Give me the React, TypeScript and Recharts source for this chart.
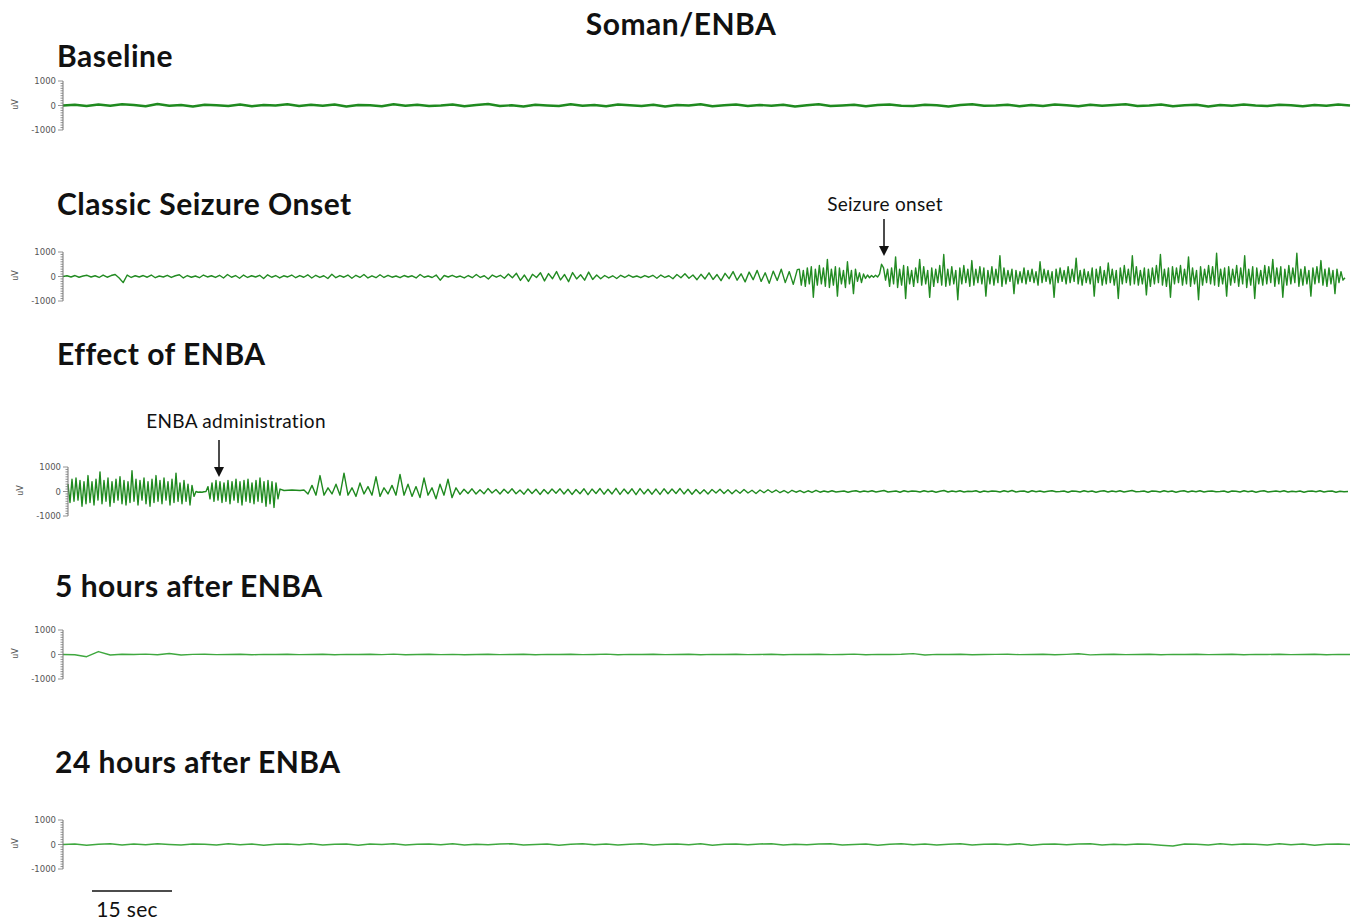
import React from 'react';
import { LineChart, Line, XAxis, YAxis } from 'recharts';

// EEG amplitude in uV. Slow segments are sampled every 0.75 s, fast ones every 0.375 s.
const SLOW = 0.75;
const FAST = 0.375;

const baseline = [
  0, 30, -20, 40, -10, 50, 20, -30, 60, -10,
  20, -40, 30, 10, -20, 40, -30, 20, 0, 50,
  -20, 30, -10, 40, -40, 20, 10, -30, 50, -10,
  30, -20, 0, 40, -30, 20, 60, -20, 10, -40,
  30, 0, -20, 50, -10, 20, -30, 40, 10, -20,
  30, -40, 20, 0, 50, -30, 10, 40, -20, 20,
  -10, 30, -40, 10, 50, -20, 0, 30, -30, 20,
  40, -10, -20, 30, 10, -40, 20, 50, -10, 0,
  30, -30, 20, -20, 40, 10, -30, 30, -10, 20,
  50, -20, 0, 40, -30, 10, 30, -40, 20, -10,
  40, 0, -20, 30, 10, -30, 20, -10, 40, 0,
];

const seizurePre = [
  0, 30, -20, 40, -30, 20, 50, -20, 30, -40,
  60, -30, 40, 80, -60, -250, 60, -40, 30, -20,
  40, -30, 60, -50, 20, -20, 50, -40, 30, 70,
  -60, 40, -30, 20, -50, 60, -20, 30, -40, 50,
  -60, 80, -30, 40, -70, 60, -40, 30, -20, 50,
  -80, 70, -30, 40, -60, 30, -20, 60, -50, 40,
  -30, 70, -60, 50, -40, 30, -80, 90, -50, 40,
  -30, 60, -70, 50, -40, 80, -60, 30, -50, 70,
  -40, 50, -30, 20, -50, 40, -20, 30, -60, 80,
  -30, 20, -40, 60, -150, 40, -20, 50, -30, 20,
  -60, 40, -50, 80, -40, 30, -100, 60, -30, 50,
  -70, 100, -50, 130, -160, 60, -200, 90, -40, 150,
  -180, 120, -90, 200, -140, 80, -210, 160, -100, 70,
  -150, 180, -120, 60, -90, 40, -60, 30, -80, 50,
  -40, 60, -30, 20, -50, 40, -30, 50, -70, 60,
  -40, 30, -90, 80, -50, 110, -70, 60, -130, 90,
  -100, 150, -120, 80, -170, 130, -90, 200, -150, 110,
  -220, 180, -130, 250, -200, 150, -280, 220, -160, 300,
  -250, 200, -320, 280,
];

const seizureIctal = [
  300, -350, 250, -400, 350, -300, 400, -850, 300, -350,
  450, -300, 350, -400, 700, -450, 300, -350, 400, -800,
  350, -300, 250, -450, 600, -300, 250, -700, 300, -200,
  150, -250, 100, -80, 60, -50, 40, -30, 50, -20,
  100, 500, 350, -150, 300,
  -400, 350, -300, 800, -450, 300, -350, 450, -900, 400,
  -300, 250, -400, 350, -250, 700, -350, 400, -300, 250,
  -850, 350, -400, 300, -250, 450, -350, 900, -400, 300,
  -350, 400, -300, 250, -950, 350, -300, 450, -250, 300,
  -400, 650, -350, 300, -250, 400, -300, 350, -800, 250,
  -300, 400, -350, 300, -250, 850, -400, 350, -300, 250,
  -200, 300, -700, 250, -300, 200, -250, 350, -300, 250,
  -200, 300, -250, 200, -350, 600, -250, 300, -200, 250,
  -300, 200, -850, 300, -250, 350, -200, 250, -300, 400,
  -250, 300, -200, 750, -300, 250, -350, 300, -250, 200,
  -300, 350, -800, 300, -250, 400, -350, 250, -300, 550,
  -250, 300, -350, 250, -900, 350, -300, 450, -250, 300,
  -350, 850, -300, 400, -350, 250, -300, 350, -750, 300,
  -400, 350, -300, 450, -250, 900, -350, 300, -400, 350,
  -850, 400, -300, 350, -250, 450, -350, 300, -300, 800,
  -400, 350, -300, 250, -950, 400, -350, 300, -250, 450,
  -300, 400, -350, 950, -400, 300, -300, 350, -800, 400,
  -350, 300, -250, 450, -400, 350, -300, 850, -450, 300,
  -350, 400, -900, 350, -300, 250, -350, 450, -300, 400,
  -250, 700, -400, 350, -300, 400, -850, 300, -350, 450,
  -300, 350, -250, 950, -400, 300, -350, 400, -300, 250,
  -800, 350, -300, 400, -250, 650, -350, 300, -400, 350,
  -300, 250, -700, 300, -250, 200, -150, -50,
];

const effectBurst = [
  300, -450, 500, -400, 550, -350, 450, -600, 400, -500,
  650, -450, 400, -550, 500, -350, 800, -500, 450, -400,
  550, -600, 400, -450, 500, -350, 600, -500, 450, -550,
  400, -450, 850, -400, 500, -550, 450, -350, 550, -500,
  400, -600, 500, -450, 650, -400, 450, -500, 550, -350,
  400, -550, 500, -450, 750, -400, 350, -500, 450, -400,
  300, -550, 250, -200,
  0, -30, -20, -30, -10, 0,
  200, -300, 350, -400, 450, -350, 400, -450, 350, -400,
  450, -500, 400, -350, 500, -450, 400, -550, 450, -400,
  500, -450, 350, -500, 450, -400, 550, -450, 400, -600,
  450, -500, 400, -650, 350, -300, 100,
];

const effectRecovery = [
  40, 50, 60, 50, 40, 60,
  -100, 250, -150, 650, -150, 150, -100, 300, -150, 750,
  -150, 150, -200, 350, -100, 200, -150, 600, -200, 150,
  -100, 250, -150, 700, -150, 300, -200, 200, -250, 550,
  -150, 150, -300, 300, -150, 500, -250, 150,
  -120, 90, -80, 110, -100, 70, -90, 120, -60, 80,
  -100, 90, -70, 110, -90, 60, -110, 100, -80, 90,
  -120, 80, -90, 100, -70, 110, -100, 90, -120, 80,
  -90, 110, -130, 100, -80, 120, -110, 90, -100, 130,
  -120, 100, -90, 110, -130, 120, -100, 90, -110, 100,
  -120, 110, -90, 100, -80, 120, -100, 90, -110, 80,
  -90, 70, -100, 80, -60, 90, -80, 70, -90, 60,
  -70, 80, -60, 50, -80, 60, -50, 70, -40, 60,
  -50, 40, -60, 50, -30, 40, -50, 30, -40, 50,
  -30, 20, -20,
];

const effectQuiet = [
  30, -20, 0, 20, -30, 10, 30, -20, 20, -10,
  30, -20, 10, 40, -20, 0, 20, -30, 30, -10,
  20, 10, -20, 30, -10, 20, -30, 10, 40, -20,
  20, -10, 30, -20, 10, 0, 30, -30, 20, -10,
  20, 10, -20, 30, -10, 40, -20, 10, 20, -30,
  30, -10, 20, -20, 10, 30, -10, 0, 20, -30,
  20, 10, -20, 30, -10, 20, -30, 10, 30, -20,
  20, -10, 30, -20, 10, 40, -10, 0, 20, -30,
  20, 10, -20, 30, -10, 20, -30, 10, 30, -20,
  20, -10, 30, -20, 10, 20, -10, 0, 20, -30,
  20, 10, -20, 30, -10, 20, -30, 10, 30, -20,
  0, 20, -10, 30, -20, 10, -10, 20, -30, 10,
  20, -10, 30, -20, 10, 20, -30, 10, -10, 0,
];

const hours5 = [
  0, -10, -90, 120, -20, 10, 0, 15, -10, 40,
  -20, 5, 10, -5, 0, 10, -10, 5, 0, 10,
  -5, 0, 10, -10, 5, 0, 10, -5, 15, -10,
  0, 10, -5, 5, -10, 0, 10, -5, 0, 10,
  -10, 5, 0, 10, -5, 0, 15, -10, 5, 0,
  10, -5, 0, 10, -10, 5, 0, 10, -5, 0,
  10, -10, 5, 0, 10, -5, 0, 15, -10, 5,
  0, 10, 35, -20, 5, 0, 10, -10, 0, 5,
  10, -5, 0, 10, -10, 5, 30, -15, 0, 10,
  -5, 0, 10, -10, 5, 0, 10, -5, 0, 10,
  -10, 5, 0, 10, -5, 0, 10, -10, 5, 0,
];

const hours24 = [
  0, 20, -30, 10, 30, -20, 20, -10, 30, 0,
  -20, 20, 10, -20, 30, -10, 20, -30, 10, 20,
  -10, 30, -20, 10, 20, -30, 20, 0, 30, -20,
  10, 20, -10, 30, -20, 10, -10, 20, 30, -20,
  0, 20, -30, 10, 30, -10, 20, -20, 10, 30,
  -20, 10, 20, -10, 30, -30, 10, 20, -10, 20,
  30, -20, 10, -10, 20, 30, -20, 0, 20, -30,
  10, 30, -10, 20, -20, 10, 30, -20, 10, 20,
  -10, 30, -30, 10, 20, -10, 20, 30, -20, 10,
  -10, 20, 10, -30, -60, 20, 10, -20, 30, -10,
  20, 10, -20, 30, -10, 20, -30, 10, 20, 0,
];

const axisTicks = [
  -1000, -900, -800, -700, -600, -500, -400, -300, -200, -100, 0,
  100, 200, 300, 400, 500, 600, 700, 800, 900, 1000,
];
const majorTicks = [-1000, 0, 1000];

const panelTitles = ['Baseline', 'Classic Seizure Onset', 'Effect of ENBA', '5 hours after ENBA', '24 hours after ENBA'];

const TITLE_FONT = 'Lato, "Open Sans", sans-serif';
const PLOT_H = 49;
const PAD = 12;

type Segment = { step: number; values: number[] };

// turn sample segments into (time, value) rows
const toRows = (segments: Segment[]) => {
  const rows: { t: number; v: number }[] = [];
  let t = 0;
  segments.forEach((seg) => {
    seg.values.forEach((v) => {
      if (rows.length > 0) t += seg.step;
      rows.push({ t, v });
    });
  });
  return rows;
};

const AxisTick = (props: any) => {
  const { x, y, payload } = props;
  const major = majorTicks.includes(payload.value);
  return (
    <g>
      <line x1={x - (major ? 5 : 2.5)} x2={x} y1={y} y2={y} stroke="#777" strokeWidth={0.8} />
      {major && (
        <text x={x - 7} y={y} dy={3} textAnchor="end" fontSize={8.5} fill="#555" fontFamily="DejaVu Sans, sans-serif">
          {payload.value}
        </text>
      )}
    </g>
  );
};

interface TraceProps {
  segments: Segment[];
  top: number; // pixel row of +1000 uV
  axisX: number;
  endX: number;
  color: string;
  width: number;
}

const Trace: React.FC<TraceProps> = ({ segments, top, axisX, endX, color, width }) => {
  const rows = toRows(segments);
  const tMax = rows[rows.length - 1].t;
  return (
    <div style={{ position: 'absolute', left: 0, top: top - PAD }}>
      <LineChart
        width={1357}
        height={PLOT_H + PAD * 2}
        data={rows}
        margin={{ top: PAD, bottom: PAD, left: axisX - 40, right: 1357 - endX }}
      >
        <XAxis type="number" dataKey="t" domain={[0, tMax]} hide />
        <YAxis
          type="number"
          width={40}
          domain={[-1000, 1000]}
          ticks={axisTicks}
          interval={0}
          tickSize={0}
          tickMargin={0}
          tickLine={false}
          axisLine={{ stroke: '#777', strokeWidth: 1 }}
          tick={<AxisTick />}
        />
        <Line
          type="linear"
          dataKey="v"
          stroke={color}
          strokeWidth={width}
          dot={false}
          isAnimationActive={false}
          strokeLinejoin="round"
        />
      </LineChart>
      <div
        style={{
          position: 'absolute',
          left: axisX - 58,
          top: PAD + PLOT_H / 2 - 6,
          width: 20,
          textAlign: 'center',
          fontSize: 8,
          color: '#555',
          fontFamily: 'DejaVu Sans, sans-serif',
          transform: 'rotate(-90deg)',
        }}
      >
        uV
      </div>
    </div>
  );
};

const Label: React.FC<{ text: string; x: number; y: number; size?: number; bold?: boolean; center?: boolean }> = ({
  text, x, y, size = 30, bold = true, center = false,
}) => (
  <div
    style={{
      position: 'absolute',
      left: center ? x - 300 : x,
      width: center ? 600 : undefined,
      textAlign: center ? 'center' : 'left',
      top: y - size * 0.62,
      fontSize: size,
      fontWeight: bold ? 700 : 400,
      fontFamily: TITLE_FONT,
      letterSpacing: bold ? 0.5 : 0.3,
      whiteSpace: 'nowrap',
      color: '#111',
      lineHeight: 1.2,
    }}
  >
    {text}
  </div>
);

export default function App() {
  return (
    <div style={{ position: 'absolute', left: 0, top: 0, width: 1357, height: 921, background: '#fff', overflow: 'hidden' }}>
      <Label text="Soman/ENBA" x={681} y={24} center />
      <Label text={panelTitles[0]} x={57} y={56} />
      <Label text={panelTitles[1]} x={57} y={204} />
      <Label text={panelTitles[2]} x={57} y={354} />
      <Label text={panelTitles[3]} x={55} y={586} />
      <Label text={panelTitles[4]} x={55} y={762} />

      <Trace segments={[{ step: SLOW, values: baseline }]} top={81} axisX={63} endX={1350} color="#1f8a1f" width={2.4} />
      <Trace
        segments={[{ step: SLOW, values: seizurePre }, { step: FAST, values: seizureIctal }]}
        top={252} axisX={63} endX={1345} color="#228b22" width={1.4}
      />
      <Trace
        segments={[
          { step: FAST, values: effectBurst },
          { step: SLOW, values: effectRecovery },
          { step: SLOW, values: effectQuiet },
        ]}
        top={467} axisX={68} endX={1348} color="#1f8a1f" width={1.4}
      />
      <Trace segments={[{ step: SLOW, values: hours5 }]} top={630} axisX={63} endX={1350} color="#3fa83f" width={1.4} />
      <Trace segments={[{ step: SLOW, values: hours24 }]} top={820} axisX={63} endX={1350} color="#3fa83f" width={1.6} />

      <Label text="Seizure onset" x={885} y={205} size={19} bold={false} center />
      <Label text="ENBA administration" x={236} y={422} size={19} bold={false} center />
      <Label text="15 sec" x={127} y={909} size={21} bold={false} center />

      <svg width={1357} height={921} style={{ position: 'absolute', left: 0, top: 0, pointerEvents: 'none' }}>
        <line x1={884} x2={884} y1={219} y2={248} stroke="#111" strokeWidth={1.5} />
        <polygon points="879,246 889,246 884,256" fill="#111" />
        <line x1={219} x2={219} y1={440} y2={469} stroke="#111" strokeWidth={1.5} />
        <polygon points="214,467 224,467 219,477" fill="#111" />
        <line x1={92} x2={172} y1={891} y2={891} stroke="#111" strokeWidth={1.5} />
      </svg>
    </div>
  );
}
